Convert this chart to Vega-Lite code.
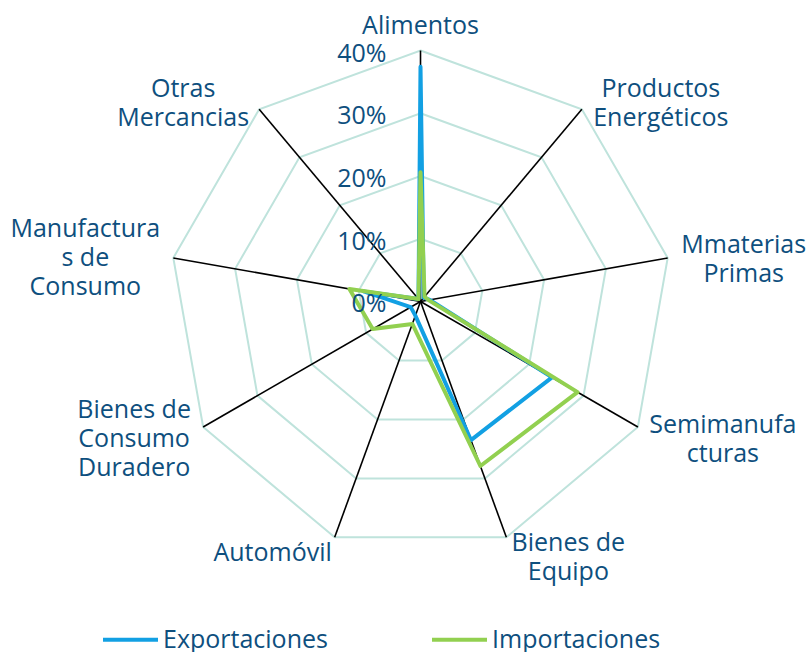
{
  "$schema": "https://vega.github.io/schema/vega-lite/v6.json",
  "width": 807,
  "height": 652,
  "autosize": {"type": "none"},
  "padding": 0,
  "config": {"view": {"stroke": null}, "text": {"font": "Open Sans", "fontSize": 25, "color": "#0e4f7e"}},
  "datasets": {
    "cats": [
      {"cat": "Alimentos", "label": "Alimentos", "Exportaciones": 37.4, "Importaciones": 20.6},
      {"cat": "Productos Energéticos", "label": "Productos\nEnergéticos", "Exportaciones": 0.8, "Importaciones": 1.0},
      {"cat": "Mmaterias Primas", "label": "Mmaterias\nPrimas", "Exportaciones": 1.5, "Importaciones": 1.3},
      {"cat": "Semimanufacturas", "label": "Semimanufa\ncturas", "Exportaciones": 24.2, "Importaciones": 28.9},
      {"cat": "Bienes de Equipo", "label": "Bienes de\nEquipo", "Exportaciones": 23.5, "Importaciones": 27.9},
      {"cat": "Automóvil", "label": "Automóvil", "Exportaciones": 2.4, "Importaciones": 3.8},
      {"cat": "Bienes de Consumo Duradero", "label": "Bienes de\nConsumo\nDuradero", "Exportaciones": 1.8, "Importaciones": 8.8},
      {"cat": "Manufacturas de Consumo", "label": "Manufactura\ns de\nConsumo", "Exportaciones": 9.2, "Importaciones": 11.5},
      {"cat": "Otras Mercancias", "label": "Otras\nMercancias", "Exportaciones": 0.5, "Importaciones": 0.5}
    ],
    "ticks": [{"t": 0}, {"t": 10}, {"t": 20}, {"t": 30}, {"t": 40}]
  },
  "data": {"name": "cats"},
  "transform": [
    {"calculate": "indexof(['Alimentos','Productos Energéticos','Mmaterias Primas','Semimanufacturas','Bienes de Equipo','Automóvil','Bienes de Consumo Duradero','Manufacturas de Consumo','Otras Mercancias'], datum.cat)", "as": "k"},
    {"calculate": "datum.k * 2 * PI / 9", "as": "a"},
    {"calculate": "40 * sin(datum.a)", "as": "lx"},
    {"calculate": "40 * cos(datum.a)", "as": "ly"},
    {"calculate": "0", "as": "c0"}
  ],
  "encoding": {
    "x": {"field": "lx", "type": "quantitative", "scale": {"domain": [-67.01, 61.59], "nice": false, "zero": false}, "axis": null},
    "y": {"field": "ly", "type": "quantitative", "scale": {"domain": [-55.86, 48.05], "nice": false, "zero": false}, "axis": null}
  },
  "layer": [
    {
      "data": {"name": "ticks"},
      "transform": [{"calculate": "0", "as": "z"}],
      "mark": {"type": "point", "shape": "M0,-1L0.6428,-0.766L0.9848,-0.1736L0.866,0.5L0.342,0.9397L-0.342,0.9397L-0.866,0.5L-0.9848,-0.1736L-0.6428,-0.766Z", "filled": false, "stroke": "#bfe3dc", "strokeWidth": 2, "opacity": 1},
      "encoding": {
        "x": {"field": "z", "type": "quantitative"},
        "y": {"field": "z", "type": "quantitative"},
        "size": {"field": "t", "type": "quantitative", "scale": {"type": "pow", "exponent": 2, "domain": [0, 40], "range": [0, 252004]}, "legend": null}
      }
    },
    {
      "mark": {"type": "rule", "color": "#000000", "strokeWidth": 1.6},
      "encoding": {
        "x": {"field": "c0", "type": "quantitative"},
        "y": {"field": "c0", "type": "quantitative"},
        "x2": {"field": "lx"},
        "y2": {"field": "ly"}
      }
    },
    {
      "transform": [
        {"fold": ["Exportaciones", "Importaciones"], "as": ["serie", "v"]},
        {"calculate": "datum.v * sin(datum.a)", "as": "px"},
        {"calculate": "datum.v * cos(datum.a)", "as": "py"}
      ],
      "mark": {"type": "line", "interpolate": "linear-closed", "strokeWidth": 4, "strokeJoin": "round"},
      "encoding": {
        "x": {"field": "px", "type": "quantitative"},
        "y": {"field": "py", "type": "quantitative"},
        "order": {"field": "k", "type": "quantitative"},
        "color": {
          "field": "serie", "type": "nominal",
          "scale": {"domain": ["Exportaciones", "Importaciones"], "range": ["#12a0e3", "#92d050"]},
          "legend": {"orient": "none", "legendX": 101, "legendY": 610, "direction": "horizontal", "title": null, "symbolType": "stroke", "symbolSize": 3025, "symbolStrokeWidth": 4, "labelFont": "Open Sans", "labelFontSize": 25, "labelColor": "#0e4f7e", "labelLimit": 400, "columnPadding": 96, "labelOffset": 3, "padding": 0}
        }
      }
    },
    {
      "data": {"name": "ticks"},
      "transform": [{"calculate": "datum.t + '%'", "as": "lab"}, {"calculate": "0", "as": "z"}],
      "mark": {"type": "text", "align": "right", "baseline": "middle", "dx": -34, "dy": 3},
      "encoding": {
        "x": {"field": "z", "type": "quantitative"},
        "y": {"field": "t", "type": "quantitative"},
        "text": {"field": "lab"}
      }
    },
    {"transform": [{"filter": "datum.k == 0"}], "mark": {"type": "text", "lineBreak": "\n", "lineHeight": 29, "baseline": "middle", "dx": 0, "dy": -25}, "encoding": {"text": {"field": "label"}}},
    {"transform": [{"filter": "datum.k == 1"}], "mark": {"type": "text", "lineBreak": "\n", "lineHeight": 29, "baseline": "middle", "dx": 79, "dy": -20}, "encoding": {"text": {"field": "label"}}},
    {"transform": [{"filter": "datum.k == 2"}], "mark": {"type": "text", "lineBreak": "\n", "lineHeight": 29, "baseline": "middle", "dx": 76, "dy": -13}, "encoding": {"text": {"field": "label"}}},
    {"transform": [{"filter": "datum.k == 3"}], "mark": {"type": "text", "lineBreak": "\n", "lineHeight": 29, "baseline": "middle", "dx": 85, "dy": -2}, "encoding": {"text": {"field": "label"}}},
    {"transform": [{"filter": "datum.k == 4"}], "mark": {"type": "text", "lineBreak": "\n", "lineHeight": 29, "baseline": "middle", "dx": 62, "dy": 6}, "encoding": {"text": {"field": "label"}}},
    {"transform": [{"filter": "datum.k == 5"}], "mark": {"type": "text", "lineBreak": "\n", "lineHeight": 29, "baseline": "middle", "dx": -62, "dy": 16}, "encoding": {"text": {"field": "label"}}},
    {"transform": [{"filter": "datum.k == 6"}], "mark": {"type": "text", "lineBreak": "\n", "lineHeight": 29, "baseline": "middle", "dx": -69, "dy": -17}, "encoding": {"text": {"field": "label"}}},
    {"transform": [{"filter": "datum.k == 7"}], "mark": {"type": "text", "lineBreak": "\n", "lineHeight": 29, "baseline": "middle", "dx": -88, "dy": -29}, "encoding": {"text": {"field": "label"}}},
    {"transform": [{"filter": "datum.k == 8"}], "mark": {"type": "text", "lineBreak": "\n", "lineHeight": 29, "baseline": "middle", "dx": -76, "dy": -20}, "encoding": {"text": {"field": "label"}}}
  ]
}
